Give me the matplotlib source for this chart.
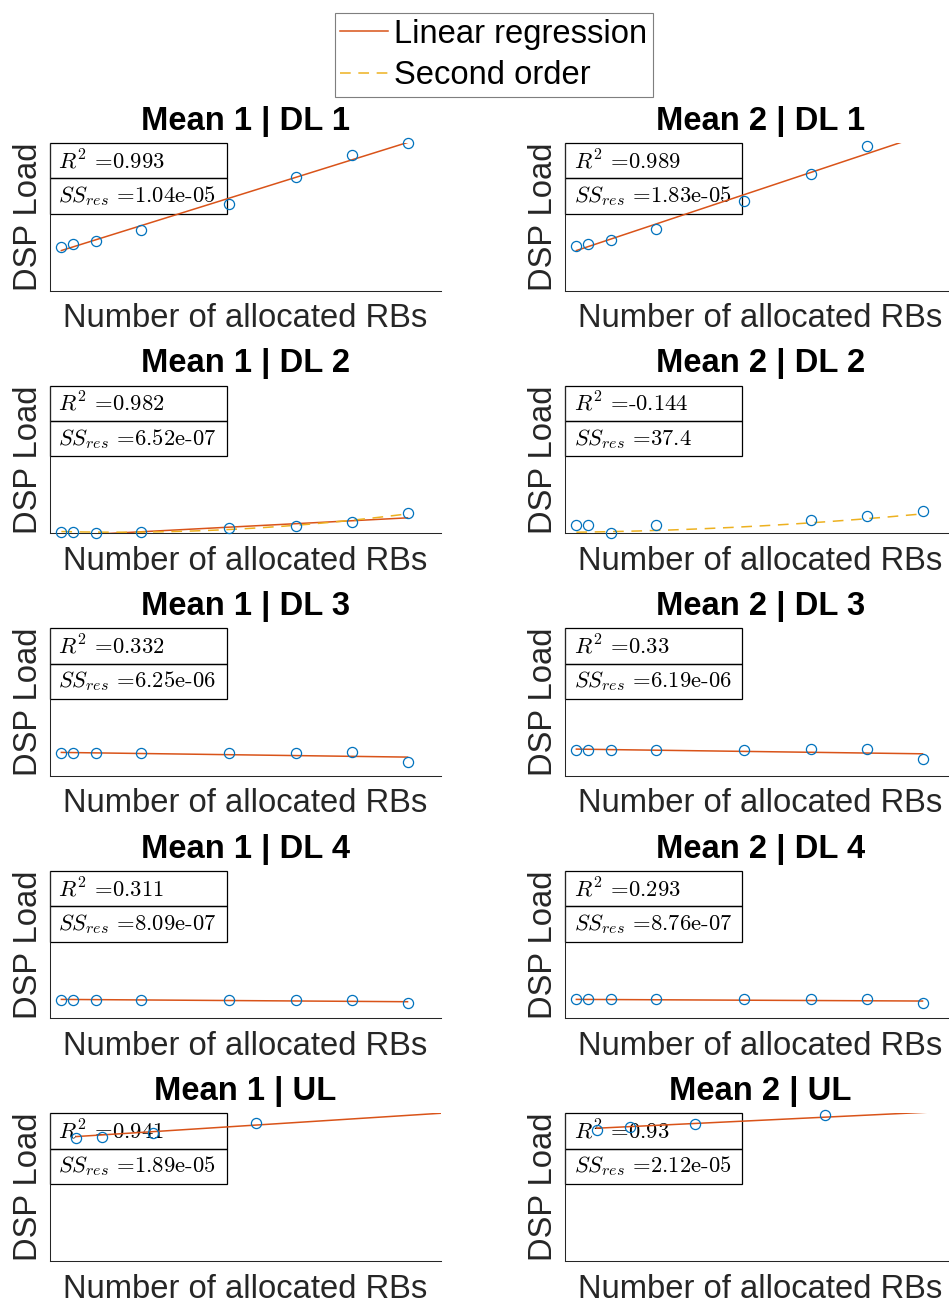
import numpy as np
import matplotlib
matplotlib.use("Agg")
import matplotlib.pyplot as plt
from matplotlib.lines import Line2D
from matplotlib.patches import Rectangle

plt.rcParams['font.family'] = ['Liberation Sans', 'DejaVu Sans']
plt.rcParams['mathtext.fontset'] = 'cm'

nan = np.nan

# Number of allocated RBs (x positions of the measured means)
rb_dl = [3, 8, 18, 38, 76.6, 106, 130.7, 155]
rb_ul_mean1 = [9.6, 20.9, 43.3, 88.6]
rb_ul_mean2 = [12.0, 26.4, 55.1, 112.3]

# Measured DSP load per configuration
load_m1_dl1 = [0.00895, 0.00942, 0.01017, 0.01241, 0.01756, 0.02319, 0.02752, 0.0300]
load_m2_dl1 = [0.00909, 0.00942, 0.01031, 0.01255, 0.01816, 0.02374, 0.02943, nan]
load_m1_dl2 = [0.00034, 0.00034, 0.0, 0.00034, 0.00102, 0.00149, 0.00237, 0.00407]
load_m2_dl2 = [0.0017, 0.0017, 0.0, 0.0017, nan, 0.00271, 0.00346, 0.00448]
load_m1_dl3 = [0.00461, 0.00461, 0.00461, 0.00461, 0.00461, 0.00461, 0.00475, 0.00271]
load_m2_dl3 = [0.00529, 0.00529, 0.00529, 0.00529, 0.00529, 0.00542, 0.00542, 0.00339]
load_m1_dl4 = [0.00373, 0.00373, 0.00373, 0.00373, 0.00373, 0.00373, 0.00373, 0.00305]
load_m2_dl4 = [0.00386, 0.00386, 0.00386, 0.00386, 0.00386, 0.00386, 0.00386, 0.00305]
load_m1_ul = [0.02509, 0.02529, 0.02597, 0.02814]
load_m2_ul = [0.02665, 0.02732, 0.02787, 0.0297]

# Linear regression coefficients (slope, intercept)
lin_m1_dl1 = (1.445e-4, 0.00771)
lin_m2_dl1 = (1.542e-4, 0.00768)
lin_m1_dl2 = (2.42e-5, -0.000629)
lin_m2_dl2 = None
lin_m1_dl3 = (-6.25e-6, 0.00477)
lin_m2_dl3 = (-6.25e-6, 0.00544)
lin_m1_dl4 = (-3.1e-6, 0.00387)
lin_m2_dl4 = (-2.2e-6, 0.00387)
lin_m1_ul = (2.96e-5, 0.02501)
lin_m2_ul = (2.24e-5, 0.02672)

# Second order fit coefficients (a, b, c)
quad_m1_dl2 = (2.302e-7, -1.275e-5, 0.000376)
quad_m2_dl2 = (1.225e-7, 5.19e-6, 0.000183)

# Goodness-of-fit annotations
r2_mean1 = ['0.993', '0.982', '0.332', '0.311', '0.941']
r2_mean2 = ['0.989', '-0.144', '0.33', '0.293', '0.93']
ss_mean1 = ['1.04e-05', '6.52e-07', '6.25e-06', '8.09e-07', '1.89e-05']
ss_mean2 = ['1.83e-05', '37.4', '6.19e-06', '8.76e-07', '2.12e-05']

links = ['DL 1', 'DL 2', 'DL 3', 'DL 4', 'UL']
ul_fit_end = 340

panels = [
    # (mean, row, x, y, lin, quad)
    (1, 0, rb_dl, load_m1_dl1, lin_m1_dl1, None),
    (2, 0, rb_dl, load_m2_dl1, lin_m2_dl1, None),
    (1, 1, rb_dl, load_m1_dl2, lin_m1_dl2, quad_m1_dl2),
    (2, 1, rb_dl, load_m2_dl2, lin_m2_dl2, quad_m2_dl2),
    (1, 2, rb_dl, load_m1_dl3, lin_m1_dl3, None),
    (2, 2, rb_dl, load_m2_dl3, lin_m2_dl3, None),
    (1, 3, rb_dl, load_m1_dl4, lin_m1_dl4, None),
    (2, 3, rb_dl, load_m2_dl4, lin_m2_dl4, None),
    (1, 4, rb_ul_mean1, load_m1_ul, lin_m1_ul, None),
    (2, 4, rb_ul_mean2, load_m2_ul, lin_m2_ul, None),
]

C_LIN = '#D95319'
C_QUAD = '#EDB120'
C_PT = '#0072BD'
C_AX = '#262626'
FS = 23.6
XLIM = (-2.0, 169.7)
YLIM = (0.0, 0.03)

W, H = 949, 1303
fig = plt.figure(figsize=(W / 100, H / 100), dpi=100)

col_left = [50, 565]
ax_w = 391
ax_h = 147.6
row_top = [143 + 242.6 * i for i in range(5)]

for mean, row, xs, ys, lin, quad in panels:
    x0 = col_left[mean - 1]
    top = row_top[row]
    ax = fig.add_axes([x0 / W, 1 - (top + ax_h) / H, ax_w / W, ax_h / H])
    ax.set_xlim(*XLIM)
    ax.set_ylim(*YLIM)
    for s in ('top', 'right'):
        ax.spines[s].set_visible(False)
    for s in ('left', 'bottom'):
        ax.spines[s].set_color(C_AX)
        ax.spines[s].set_linewidth(0.75)
    ax.set_xticks([])
    ax.set_yticks([])

    xs = np.asarray(xs, float)
    ys = np.asarray(ys, float)
    end = ul_fit_end if row == 4 else xs[-1]
    xf = np.linspace(xs[0], end, 300)
    if lin is not None:
        ax.plot(xf, lin[0] * xf + lin[1], color=C_LIN, lw=1.1, zorder=3)
    if quad is not None:
        ax.plot(xf, quad[0] * xf ** 2 + quad[1] * xf + quad[2], color=C_QUAD,
                lw=1.1, ls=(0, (7, 5)), zorder=3)
    keep = np.isfinite(ys) & (ys <= YLIM[1] + 1e-9) & (ys >= YLIM[0] - 1e-9)
    ax.plot(xs[keep], ys[keep], 'o', mfc='none', mec=C_PT, ms=7.3, mew=0.9,
            clip_on=False, zorder=4)

    # Fit statistics box
    bw = 176.7 / ax_w
    bh = 35.4 / ax_h
    for k in range(2):
        ax.add_patch(Rectangle((0, 1 - (k + 1) * bh), bw, bh, transform=ax.transAxes,
                               fill=False, edgecolor='black', lw=0.9,
                               clip_on=False, zorder=2))
    r2 = (r2_mean1 if mean == 1 else r2_mean2)[row]
    ss = (ss_mean1 if mean == 1 else ss_mean2)[row]
    tx = 8.5 / ax_w
    ax.text(tx, 1 - 0.5 * bh, r'$R^2$ =' + r2, transform=ax.transAxes,
            family='cmr10', fontsize=16.3, va='center', ha='left', zorder=2)
    ax.text(tx, 1 - 1.5 * bh, r'$SS_{res}$ =' + ss, transform=ax.transAxes,
            family='cmr10', fontsize=16.3, va='center', ha='left', zorder=2)

    ax.set_title(f'Mean {mean} | {links[row]}', fontsize=FS, fontweight='bold',
                 pad=9.5)
    ax.set_xlabel('Number of allocated RBs', fontsize=FS, color=C_AX, labelpad=9)
    ax.set_ylabel('DSP Load', fontsize=FS, color=C_AX, labelpad=4)

handles = [Line2D([], [], color=C_LIN, lw=1.1),
           Line2D([], [], color=C_QUAD, lw=1.1, ls=(0, (7, 5)))]
leg = fig.legend(handles, ['Linear regression', 'Second order'],
                 loc='upper center', bbox_to_anchor=(494 / W, 1 - 13 / H),
                 fontsize=FS, frameon=True, fancybox=False, framealpha=1,
                 edgecolor='#7f7f7f', handlelength=1.45, handletextpad=0.2,
                 borderpad=0.17, labelspacing=0.33, borderaxespad=0)
leg.get_frame().set_linewidth(0.8)

fig.savefig('out.png', dpi=100)
